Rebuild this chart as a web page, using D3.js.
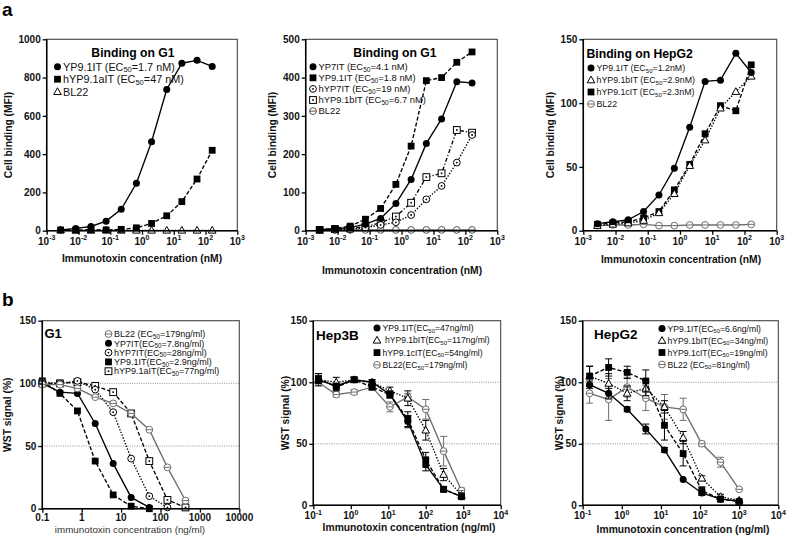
<!DOCTYPE html>
<html>
<head>
<meta charset="utf-8">
<script src="https://cdn.jsdelivr.net/npm/d3@7"></script>
<style>
  body { margin: 0; background: #fff; }
  svg { font-family: "Liberation Sans", Arial, sans-serif; }
</style>
</head>
<body>
<script>
// ---- binding assays (MFI), concentrations in nM
const bindConc = [0.00274, 0.00823, 0.0247, 0.0741, 0.222, 0.667, 2, 6, 18, 54, 162];

const g1aYP91 = [4, 12, 22, 50, 112, 248, 465, 738, 875, 890, 858];
const g1aHYP91a = [4, 4, 5, 4, 7, 15, 38, 78, 152, 270, 420];
const g1aBL22 = [3, 2, 2, 3, 2, 2, 2, 2, 2, 2, 2];

const g1bYP7 = [3, 5, 8, 17, 32, 71, 134, 228, 292, 389, 386];
const g1bYP91 = [3, 6, 12, 30, 58, 121, 221, 392, 400, 440, 467];
const g1bHYP7 = [2, 3, 4, 8, 15, 22, 41, 82, 117, 178, 250];
const g1bHYP91b = [2, 4, 6, 10, 21, 37, 73, 140, 150, 263, 256];
const g1bBL22 = [2, 2, 2, 2, 2, 2, 2, 2, 2, 2, 2];

const hepg2aYP91 = [5.5, 7, 8.5, 15, 28, 49, 81, 117, 118, 139, 124];
const hepg2aHYP91b = [4, 5, 6, 8, 14, 29, 51, 71, 96, 109, 121];
const hepg2aHYP91c = [5, 6, 7, 10, 15, 32, 52, 76, 98, 94, 130];
const hepg2aBL22 = [4, 4.5, 4.5, 5, 4, 4, 4.5, 4.5, 4.5, 4.5, 5];

// ---- cytotoxicity (WST %), concentrations in ng/ml
const g1Conc = [0.1, 0.28, 0.78, 2.2, 6.3, 18, 52, 150, 430];
const g1cBL22 = [99, 99, 96, 89, 84, 76, 63, 33, 6.5];
const g1cYP7 = [100, 93, 92, 68, 36, 9, 1];
const g1cHYP7 = [101, 100, 102, 95, 77, 40, 10, 1];
const g1cYP91 = [102, 92, 78, 38, 11, 2, 0];
const g1cHYP91a = [100, 100, 101, 98, 93, 76, 38, 7, 1];

const hep3bConc = [0.137, 0.41, 1.23, 3.7, 11.1, 33.3, 100, 300, 900];
const hep3bYP91 = [102, 97, 102, 100, 90, 68, 33, 13, 7];
const hep3bYP91Err = [5, 2, 2, 2, 2, 5, 5, 2, 1];
const hep3bHYP91b = [102, 100, 102, 100, 93, 87, 61, 25, 8];
const hep3bHYP91bErr = [3, 4, 2, 2, 3, 6, 8, 5, 2];
const hep3bHYP91c = [103, 96, 102, 96, 90, 70, 37, 13, 7];
const hep3bHYP91cErr = [4, 3, 2, 2, 3, 6, 6, 2, 1];
const hep3bBL22 = [100, 90, 92, 96, 80, 88, 78, 44, 12];
const hep3bBL22Err = [2, 2, 2, 2, 4, 3, 8, 12, 2];

const hepg2Conc = [0.15, 0.46, 1.37, 4.1, 12.3, 37, 111, 333, 1000];
const hepg2YP91 = [98, 91, 78, 62, 45, 21, 10, 5, 3.5];
const hepg2YP91Err = [3, 4, 2, 4, 2, 1, 2, 1, 1];
const hepg2HYP91b = [105, 99, 91, 95, 80, 55, 22, 7, 4];
const hepg2HYP91bErr = [8, 8, 6, 6, 5, 5, 2, 2, 1];
const hepg2HYP91c = [105, 112, 108, 101, 65, 42, 12, 5, 3];
const hepg2HYP91cErr = [8, 7, 5, 9, 12, 10, 3, 2, 1];
const hepg2BL22 = [91, 86, 96, 87, 80, 78, 50, 35, 13];
const hepg2BL22Err = [8, 17, 8, 10, 10, 9, 2, 4, 1];

const bindTicks = [1e-3, 1e-2, 1e-1, 1, 10, 100, 1000];
const cytoTicks = [0.1, 1, 10, 100, 1000, 10000];
const wstTicks = [0, 50, 100, 150];

const GRAY = "#6e6e6e";
const SOLID = null, DASH = "4,2", DOT = "1.4,1.6", DASHDOT = "4,2,1.2,2";

const app = {

  init: () => {
    const svg = d3.select("body").append("svg")
      .attr("width", 787)
      .attr("height", 542);
    app.svg = svg;

    svg.append("text").attr("x", 2).attr("y", 16)
      .attr("font-size", 19).attr("font-weight", "bold").text("a");
    svg.append("text").attr("x", 2).attr("y", 306)
      .attr("font-size", 19).attr("font-weight", "bold").text("b");

    app.panel({
      box: [46.7, 39.3, 237.3, 230.7], xDomain: [1e-3, 1e3], xTicks: bindTicks, pow: true,
      yDomain: [0, 1000], yTicks: [0, 200, 400, 600, 800, 1000],
      title: { text: "Binding on G1", x: 133, y: 57, anchor: "middle", size: 12.2 },
      legend: { x: 57.5, y: 66.7, dy: 12.5, fs: 10.8 },
      xTitle: { text: "Immunotoxin concentration (nM)", x: 142, y: 262 },
      yTitle: { text: "Cell binding (MFI)", x: 12 },
      series: [
        { label: "YP9.1IT (EC_50=1.7 nM)", x: bindConc, y: g1aYP91, shape: "circle", dash: SOLID },
        { label: "hYP9.1aIT (EC_50=47 nM)", x: bindConc, y: g1aHYP91a, shape: "square", dash: DASH },
        { label: "BL22", x: bindConc, y: g1aBL22, shape: "triangle", dash: DOT }
      ]
    });

    app.panel({
      box: [305.7, 39.3, 497.3, 230.7], xDomain: [1e-3, 1e3], xTicks: bindTicks, pow: true,
      yDomain: [0, 500], yTicks: [0, 100, 200, 300, 400, 500],
      title: { text: "Binding on G1", x: 395, y: 57, anchor: "middle", size: 12.2 },
      legend: { x: 313, y: 66.7, dy: 11.1, fs: 9.4 },
      xTitle: { text: "Immunotoxin concentration (nM)", x: 402, y: 274 },
      yTitle: { text: "Cell binding (MFI)", x: 276 },
      series: [
        { label: "YP7IT (EC_50=4.1 nM)", x: bindConc, y: g1bYP7, shape: "circle", dash: SOLID },
        { label: "YP9.1IT (EC_50=1.8 nM)", x: bindConc, y: g1bYP91, shape: "square", dash: DASH },
        { label: "hYP7IT (EC_50=19 nM)", x: bindConc, y: g1bHYP7, shape: "dotCircle", dash: DOT },
        { label: "hYP9.1bIT (EC_50=6.7 nM)", x: bindConc, y: g1bHYP91b, shape: "dotSquare", dash: DASHDOT },
        { label: "BL22", x: bindConc, y: g1bBL22, shape: "barCircle", dash: SOLID, color: "#555" }
      ]
    });

    app.panel({
      box: [583.3, 39.3, 776.7, 230.7], xDomain: [1e-3, 1e3], xTicks: bindTicks, pow: true,
      yDomain: [0, 150], yTicks: [0, 50, 100, 150],
      title: { text: "Binding on HepG2", x: 586.5, y: 57.5, anchor: "start", size: 12.2 },
      legend: { x: 591, y: 68, dy: 12, fs: 8.8 },
      xTitle: { text: "Immunotoxin concentration (nM)", x: 681, y: 263 },
      yTitle: { text: "Cell binding (MFI)", x: 554 },
      series: [
        { label: "YP9.1IT (EC_50=1.2nM)", x: bindConc, y: hepg2aYP91, shape: "circle", dash: SOLID },
        { label: "hYP9.1bIT (EC_50=2.9nM)", x: bindConc, y: hepg2aHYP91b, shape: "triangle", dash: DOT },
        { label: "hYP9.1cIT (EC_50=2.3nM)", x: bindConc, y: hepg2aHYP91c, shape: "square", dash: DASH },
        { label: "BL22", x: bindConc, y: hepg2aBL22, shape: "barCircle", dash: SOLID, color: GRAY }
      ]
    });

    app.panel({
      box: [42.3, 320.7, 239.3, 508.7], xDomain: [0.1, 10000], xTicks: cytoTicks, pow: false,
      yDomain: [0, 150], yTicks: wstTicks, refLines: [50, 100], tickY: 12,
      title: { text: "G1", x: 44.5, y: 337.5, anchor: "start", size: 13 },
      legend: { x: 108.5, y: 334, dy: 9.3, fs: 9 },
      xTitle: { text: "immunotoxin concentration (ng/ml)", x: 130, y: 533, normal: true },
      yTitle: { text: "WST signal (%)", x: 10.5 },
      series: [
        { label: "BL22 (EC_50=179ng/ml)", x: g1Conc, y: g1cBL22, shape: "barCircle", dash: SOLID, color: GRAY },
        { label: "YP7IT(EC_50=7.8ng/ml)", x: g1Conc, y: g1cYP7, shape: "circle", dash: SOLID },
        { label: "hYP7IT(EC_50=28ng/ml)", x: g1Conc, y: g1cHYP7, shape: "dotCircle", dash: DOT },
        { label: "YP9.1IT(EC_50=2.9ng/ml)", x: g1Conc, y: g1cYP91, shape: "square", dash: DASH },
        { label: "hYP9.1aIT(EC_50=77ng/ml)", x: g1Conc, y: g1cHYP91a, shape: "dotSquare", dash: DASH }
      ]
    });

    app.panel({
      box: [313.3, 320.7, 500.7, 505.3], xDomain: [0.1, 10000], xTicks: cytoTicks, pow: true,
      yDomain: [0, 150], yTicks: wstTicks, refLines: [50, 100],
      title: { text: "Hep3B", x: 316, y: 339.5, anchor: "start", size: 13.5 },
      legend: { x: 377, y: 328, dy: 12.3, fs: 8.6 },
      xTitle: { text: "Immunotoxin concentration (ng/ml)", x: 409, y: 531 },
      yTitle: { text: "WST signal (%)", x: 288.5 },
      series: [
        { label: "YP9.1IT(EC_50=47ng/ml)", x: hep3bConc, y: hep3bYP91, err: hep3bYP91Err, shape: "circle", dash: SOLID },
        { label: " hYP9.1bIT(EC_50=117ng/ml)", x: hep3bConc, y: hep3bHYP91b, err: hep3bHYP91bErr, shape: "triangle", dash: DOT },
        { label: "hYP9.1cIT(EC_50=54ng/ml)", x: hep3bConc, y: hep3bHYP91c, err: hep3bHYP91cErr, shape: "square", dash: DASH },
        { label: "BL22(EC_50=179ng/ml)", x: hep3bConc, y: hep3bBL22, err: hep3bBL22Err, shape: "barCircle", dash: SOLID, color: GRAY }
      ],
      order: [3, 1, 2, 0]
    });

    app.panel({
      box: [582.7, 320.7, 778.3, 505.3], xDomain: [0.1, 10000], xTicks: cytoTicks, pow: true,
      yDomain: [0, 150], yTicks: wstTicks, refLines: [50, 100],
      title: { text: "HepG2", x: 594, y: 339, anchor: "start", size: 13.5 },
      legend: { x: 662, y: 328.5, dy: 12, fs: 8.6 },
      xTitle: { text: "Immunotoxin concentration (ng/ml)", x: 683, y: 533 },
      yTitle: { text: "WST signal (%)", x: 562.5 },
      series: [
        { label: "YP9.1IT(EC_50=6.6ng/ml)", x: hepg2Conc, y: hepg2YP91, err: hepg2YP91Err, shape: "circle", dash: SOLID },
        { label: "hYP9.1bIT(EC_50=34ng/ml)", x: hepg2Conc, y: hepg2HYP91b, err: hepg2HYP91bErr, shape: "triangle", dash: DOT },
        { label: "hYP9.1cIT(EC_50=19ng/ml)", x: hepg2Conc, y: hepg2HYP91c, err: hepg2HYP91cErr, shape: "square", dash: DASH },
        { label: "BL22 (EC_50=81ng/ml)", x: hepg2Conc, y: hepg2BL22, err: hepg2BL22Err, shape: "barCircle", dash: SOLID, color: GRAY }
      ],
      order: [3, 1, 2, 0]
    });
  },

  panel: (cfg) => {
    const [l, t, r, b] = cfg.box;
    const g = app.svg.append("g");
    const x = d3.scaleLog().domain(cfg.xDomain).range([l, r]);
    const y = d3.scaleLinear().domain(cfg.yDomain).range([b, t]);

    // dotted reference lines
    (cfg.refLines || []).forEach(v => {
      g.append("line")
        .attr("x1", l).attr("x2", r).attr("y1", y(v)).attr("y2", y(v))
        .attr("stroke", "#8a8a8a").attr("stroke-width", 0.9)
        .attr("stroke-dasharray", "1,1.3");
    });

    const order = cfg.order || cfg.series.map((d, i) => i).reverse();
    const line = d3.line().x(d => x(d[0])).y(d => y(d[1]));

    order.forEach(i => {
      const s = cfg.series[i];
      const color = s.color || "#000";
      const pts = s.y.map((v, k) => [s.x[k], v, s.err ? s.err[k] : 0]);
      g.append("path")
        .attr("d", line(pts))
        .attr("fill", "none")
        .attr("stroke", color)
        .attr("stroke-width", 1.35)
        .attr("stroke-dasharray", s.dash);
      if (s.err) {
        pts.forEach(p => {
          if (p[2] < 1.5) return;
          const cx = x(p[0]), y1 = y(p[1] - p[2]), y2 = y(p[1] + p[2]);
          g.append("path")
            .attr("d", `M${cx},${y1}V${y2}M${cx - 3.5},${y1}H${cx + 3.5}M${cx - 3.5},${y2}H${cx + 3.5}`)
            .attr("fill", "none").attr("stroke", color).attr("stroke-width", 1);
        });
      }
      pts.forEach(p => app.marker(g, s.shape, x(p[0]), y(p[1]), color));
    });

    // frame
    g.append("rect")
      .attr("x", l).attr("y", t).attr("width", r - l).attr("height", b - t)
      .attr("fill", "none").attr("stroke", "#444").attr("stroke-width", 1.1);
    g.append("path")
      .attr("d", `M${l},${t}V${b}H${r}`)
      .attr("fill", "none").attr("stroke", "#000").attr("stroke-width", 1.5);

    // y axis
    const ya = g.append("g").attr("transform", `translate(${l},0)`)
      .call(d3.axisLeft(y).tickValues(cfg.yTicks).tickSize(4).tickPadding(2).tickFormat(d3.format("d")));
    ya.select(".domain").remove();
    ya.selectAll("line").attr("stroke-width", 1.3);
    ya.selectAll("text").attr("font-size", 10).attr("font-weight", "bold")
      .attr("font-family", "Liberation Sans, Arial, sans-serif").attr("fill", "#111");

    // x axis
    const xa = g.append("g").attr("transform", `translate(0,${b})`)
      .call(d3.axisBottom(x).tickValues(cfg.xTicks).tickSize(4).tickFormat(""));
    xa.select(".domain").remove();
    xa.selectAll("line").attr("stroke-width", 1.3);

    const labs = g.selectAll(null).data(cfg.xTicks).enter().append("text")
      .attr("x", d => x(d))
      .attr("y", b + (cfg.tickY || 14))
      .attr("text-anchor", "middle")
      .attr("font-size", 10).attr("font-weight", "bold").attr("fill", "#111");
    if (cfg.pow) {
      labs.each(function (d) {
        const e = Math.round(Math.log10(d));
        const txt = d3.select(this);
        txt.append("tspan").text("10");
        txt.append("tspan").attr("dy", -4.5).attr("font-size", 7).text(e);
      });
    } else {
      labs.text(d => d3.format("~g")(d));
    }

    // titles
    g.append("text")
      .attr("x", cfg.title.x).attr("y", cfg.title.y)
      .attr("text-anchor", cfg.title.anchor)
      .attr("font-size", cfg.title.size).attr("font-weight", "bold")
      .text(cfg.title.text);

    g.append("text")
      .attr("x", cfg.xTitle.x).attr("y", cfg.xTitle.y)
      .attr("text-anchor", "middle")
      .attr("font-size", cfg.xTitle.normal ? 9.8 : 10.3)
      .attr("font-weight", cfg.xTitle.normal ? "normal" : "bold")
      .attr("fill", cfg.xTitle.normal ? "#333" : "#111")
      .text(cfg.xTitle.text);

    g.append("text")
      .attr("transform", `translate(${cfg.yTitle.x},${(t + b) / 2}) rotate(-90)`)
      .attr("text-anchor", "middle")
      .attr("font-size", 10.3).attr("font-weight", "bold").attr("fill", "#111")
      .text(cfg.yTitle.text);

    // legend
    const lg = cfg.legend;
    cfg.series.forEach((s, i) => {
      const cy = lg.y + i * lg.dy;
      const color = s.color || "#000";
      app.marker(g, s.shape, lg.x, cy, color);
      const parts = s.label.split("_50");
      const txt = g.append("text")
        .attr("x", lg.x + 5.5).attr("y", cy + lg.fs * 0.36)
        .attr("font-size", lg.fs).attr("fill", "#111")
        .attr("xml:space", "preserve");
      txt.append("tspan").text(parts[0]);
      if (parts.length > 1) {
        txt.append("tspan").attr("dy", 1.6).attr("font-size", lg.fs * 0.7).text("50");
        txt.append("tspan").attr("dy", -1.6).text(parts[1]);
      }
    });
  },

  marker: (g, shape, cx, cy, color) => {
    const m = g.append("g").attr("transform", `translate(${cx},${cy})`);
    const r = 3.4;
    if (shape === "circle") {
      m.append("circle").attr("r", r + 0.1).attr("fill", color);
    } else if (shape === "square") {
      m.append("rect").attr("x", -r).attr("y", -r).attr("width", 2 * r).attr("height", 2 * r).attr("fill", color);
    } else if (shape === "triangle") {
      m.append("path").attr("d", "M0,-3.9L3.8,2.8L-3.8,2.8Z")
        .attr("fill", "#fff").attr("stroke", color).attr("stroke-width", 1);
    } else if (shape === "dotCircle") {
      m.append("circle").attr("r", r).attr("fill", "#fff").attr("stroke", color).attr("stroke-width", 1);
      m.append("circle").attr("r", 0.9).attr("fill", color);
    } else if (shape === "dotSquare") {
      m.append("rect").attr("x", -r).attr("y", -r).attr("width", 2 * r).attr("height", 2 * r)
        .attr("fill", "#fff").attr("stroke", color).attr("stroke-width", 1);
      m.append("rect").attr("x", -0.8).attr("y", -0.8).attr("width", 1.6).attr("height", 1.6).attr("fill", color);
    } else if (shape === "barCircle") {
      m.append("circle").attr("r", r).attr("fill", "#fff").attr("stroke", color).attr("stroke-width", 1);
      m.append("line").attr("x1", -r).attr("x2", r).attr("stroke", color).attr("stroke-width", 1);
    }
  }

}

app.init();
</script>
</body>
</html>
